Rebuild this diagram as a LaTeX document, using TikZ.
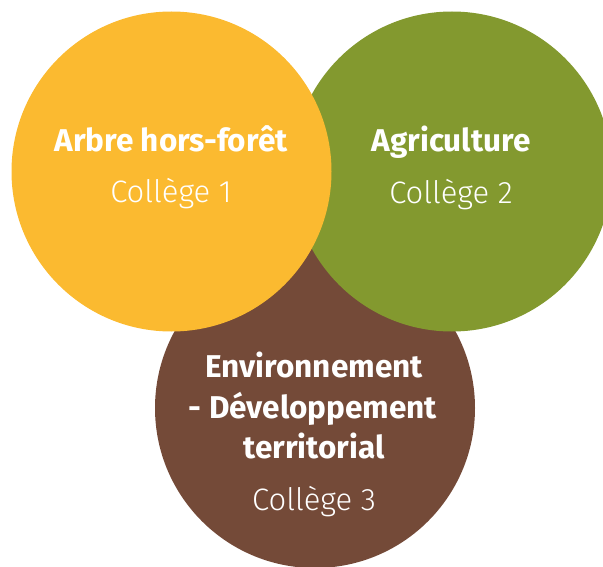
\documentclass[tikz,border=0pt]{standalone}
\usepackage{fontspec}
\setmainfont{Fira Sans}
\newfontfamily\lightfont{Fira Sans Light}
\usetikzlibrary{positioning}
\definecolor{arbre}{HTML}{FBBA30}
\definecolor{agri}{HTML}{83992F}
\definecolor{envi}{HTML}{744A38}
\tikzset{
  disc/.style={circle, inner sep=0pt, minimum size=320pt},
  ttl/.style={text=white, font=\bfseries\fontsize{31.5}{36}\selectfont, anchor=base, inner sep=0pt},
  sub/.style={text=white, font=\lightfont\fontsize{31}{36}\selectfont, anchor=base, inner sep=0pt}
}
\begin{document}
\begin{tikzpicture}[x=1pt,y=-1pt]
    \useasboundingbox (0,0) rectangle (603,567);
    \clip (0,0) rectangle (603,567);

    % Brown circle (behind the others)
    \node[disc, fill=envi] (envc) at (315,408) {};

    % Green circle
    \node[disc, fill=agri] (agrc) at (452,171.5) {};

    % Yellow circle (on top)
    \node[disc, fill=arbre] (arbc) at (171.5,171.5) {};

    % Labels
    \node[ttl] (arbt) at (171,152) {Arbre hors-forêt};
    \node[sub] (arbs) at (171,203) {Collège 1};

    \node[ttl] (agrt) at (451,152) {Agriculture};
    \node[sub] (agrs) at (451,204) {Collège 2};

    \node[ttl] (envt) at (314,377) {Environnement};
    \node[ttl] (envd) at (313,418) {- Développement};
    \node[ttl] (envr) at (314,458) {territorial};
    \node[sub] (envs) at (314,510) {Collège 3};

\end{tikzpicture}
\end{document}
